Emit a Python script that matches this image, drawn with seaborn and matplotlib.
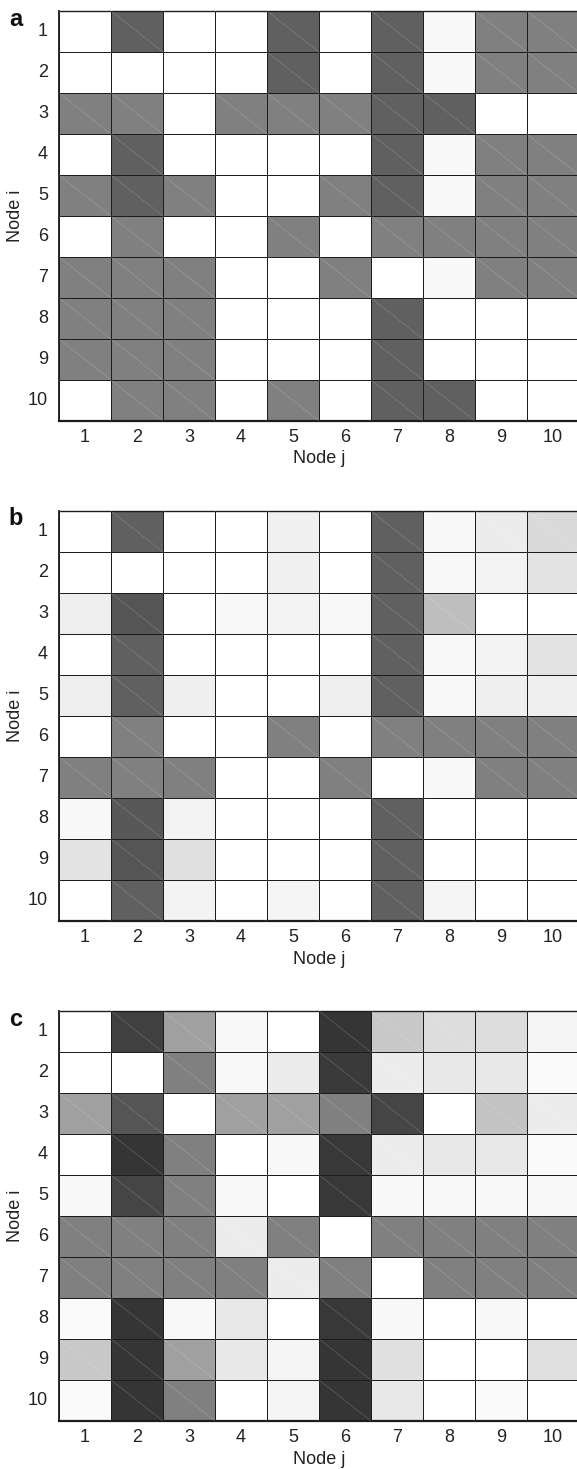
import numpy as np
import pandas as pd
import seaborn as sns
import matplotlib
matplotlib.use("Agg")
import matplotlib.pyplot as plt
from matplotlib.ticker import FixedLocator, NullFormatter

sns.set_theme(style="white")
plt.rcParams['font.family'] = ['Liberation Sans', 'DejaVu Sans']

nodes = [str(k) for k in range(1, 11)]

# cell intensities (0 = black, 255 = white), rows = Node i, cols = Node j
panel_a = [
    [255,  96, 255, 255,  96, 255,  96, 248, 128, 128],
    [255, 255, 255, 255,  96, 255,  96, 248, 128, 128],
    [128, 128, 255, 128, 128, 128,  96,  96, 255, 255],
    [255,  96, 255, 255, 255, 255,  96, 248, 128, 128],
    [128,  96, 128, 255, 255, 128,  96, 248, 128, 128],
    [255, 128, 255, 255, 128, 255, 128, 128, 128, 128],
    [128, 128, 128, 255, 255, 128, 255, 248, 128, 128],
    [128, 128, 128, 255, 255, 255,  96, 255, 255, 255],
    [128, 128, 128, 255, 255, 255,  96, 255, 255, 255],
    [255, 128, 128, 255, 128, 255,  96,  96, 255, 255],
]
panel_b = [
    [255,  96, 255, 255, 240, 255,  96, 248, 236, 218],
    [255, 255, 255, 255, 240, 255,  96, 248, 243, 227],
    [238,  85, 255, 248, 243, 248,  96, 190, 255, 255],
    [255,  96, 255, 255, 255, 255,  96, 248, 243, 227],
    [238,  96, 239, 255, 255, 238,  96, 248, 239, 239],
    [255, 128, 255, 255, 128, 255, 128, 128, 128, 128],
    [128, 128, 128, 255, 255, 128, 255, 248, 128, 128],
    [248,  88, 243, 255, 255, 255,  96, 255, 255, 255],
    [227,  85, 224, 255, 255, 255,  96, 255, 255, 255],
    [255,  96, 243, 255, 245, 255,  96, 245, 255, 255],
]
panel_c = [
    [255,  64, 160, 248, 255,  53, 200, 221, 220, 245],
    [255, 255, 128, 248, 235,  58, 236, 232, 232, 250],
    [160,  85, 255, 160, 160, 128,  69, 255, 195, 236],
    [255,  53, 128, 255, 248,  56, 236, 232, 232, 250],
    [248,  69, 128, 248, 255,  56, 248, 248, 248, 248],
    [128, 128, 128, 236, 128, 255, 128, 128, 128, 128],
    [128, 128, 128, 128, 236, 128, 255, 128, 128, 128],
    [250,  53, 248, 232, 255,  56, 248, 255, 248, 255],
    [200,  53, 160, 232, 245,  53, 224, 255, 255, 224],
    [250,  53, 128, 255, 245,  53, 232, 255, 250, 255],
]
panel_letters = ['a', 'b', 'c']
panels = [panel_a, panel_b, panel_c]

W, H = 577, 1469
fig = plt.figure(figsize=(W / 100, H / 100), dpi=100)

tops = [11, 511, 1011]
ax_h = 410
left, width = 59, 520

for letter, data, top in zip(panel_letters, panels, tops):
    ax = fig.add_axes([left / W, 1 - (top + ax_h) / H, width / W, ax_h / H])
    df = pd.DataFrame(np.array(data, dtype=float), index=nodes, columns=nodes)
    sns.heatmap(df, ax=ax, cmap='gray', vmin=0, vmax=255, cbar=False,
                linewidths=0.7, linecolor='#1c1c1c', square=False)
    # faint diagonal rendering artefact in each cell
    nr, nc = df.shape
    for i in range(nr):
        for j in range(nc):
            ax.plot([j, j + 1], [i, i + 1], color='white', alpha=0.2,
                    lw=0.5, solid_capstyle='butt', zorder=3)
    for s in ax.spines.values():
        s.set_visible(True)
        s.set_color('#1c1c1c')
        s.set_linewidth(1.0)
    ax.spines['bottom'].set_linewidth(1.6)
    ax.spines['left'].set_linewidth(1.3)
    ax.set_xlabel('Node j', fontsize=13, labelpad=3, color='#222222')
    ax.set_ylabel('Node i', fontsize=13, color='#222222')
    ax.yaxis.set_label_coords((24 - left) / width, 0.5)
    ax.tick_params(axis='both', which='major', length=0, labelsize=13,
                   colors='#222222')
    ax.tick_params(axis='x', which='major', pad=6)
    ax.tick_params(axis='y', which='major', pad=8)
    ax.set_yticklabels(nodes, rotation=0)
    ax.set_xticklabels(nodes, rotation=0)
    # small inward corner ticks
    ax.xaxis.set_minor_locator(FixedLocator([nc - 0.5]))
    ax.yaxis.set_minor_locator(FixedLocator([0.5]))
    ax.xaxis.set_minor_formatter(NullFormatter())
    ax.yaxis.set_minor_formatter(NullFormatter())
    ax.tick_params(which='minor', direction='in', length=4, width=0.8,
                   color='#222222', bottom=True, left=True)
    sec_x = ax.secondary_xaxis('top')
    sec_x.set_xticks([0.5])
    sec_x.set_xticklabels([])
    sec_x.tick_params(direction='in', length=4, width=0.8, color='#222222')
    sec_x.spines['top'].set_visible(False)
    sec_y = ax.secondary_yaxis('right')
    sec_y.set_yticks([nr - 0.5])
    sec_y.set_yticklabels([])
    sec_y.tick_params(direction='in', length=4, width=0.8, color='#222222')
    sec_y.spines['right'].set_visible(False)
    fig.text(16 / W, 1 - (top + 8) / H, letter, fontsize=17, fontweight='bold',
             ha='center', va='center', color='#111111')

fig.savefig('out.png', dpi=100)
